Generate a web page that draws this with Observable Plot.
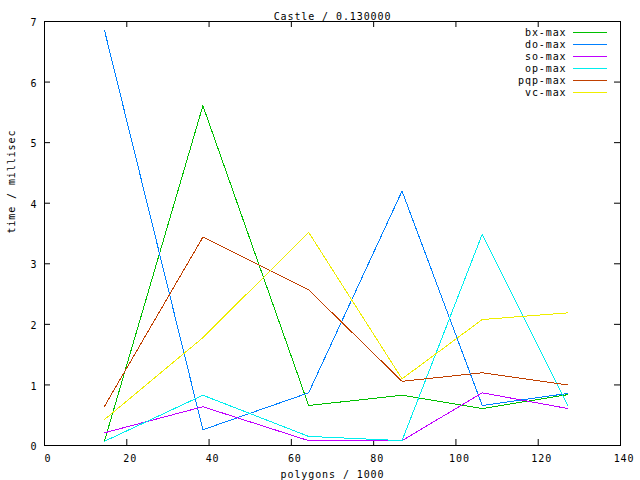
<!DOCTYPE html>
<html>
<head>
<meta charset="utf-8">
<script src="https://cdn.jsdelivr.net/npm/d3@7"></script>
<script src="https://cdn.jsdelivr.net/npm/@observablehq/plot@0.6"></script>
<style>
  body { margin: 0; background: #fff; }
  svg { display: block; }
  svg text { letter-spacing: 0.9px; }
</style>
</head>
<body>
<div id="chart"></div>
<script>
const title = "Castle / 0.130000";
const xLabel = "polygons / 1000";
const yLabel = "time / millisec";
const polygons = [14.6, 38.5, 64.2, 86.9, 106.4, 127.2];
const seriesNames = ["bx-max", "do-max", "so-max", "op-max", "pqp-max", "vc-max"];
const seriesColors = ["#00c000", "#0080ff", "#c000ff", "#00eeee", "#c04000", "#eeee00"];
const bxMax  = [0.08, 5.61, 0.66, 0.83, 0.61, 0.84];
const doMax  = [6.85, 0.26, 0.87, 4.20, 0.66, 0.86];
const soMax  = [0.21, 0.64, 0.08, 0.08, 0.87, 0.61];
const opMax  = [0.07, 0.83, 0.15, 0.08, 3.49, 0.66];
const pqpMax = [0.65, 3.44, 2.57, 1.06, 1.20, 1.00];
const vcMax  = [0.43, 1.78, 3.52, 1.10, 2.08, 2.19];
const xTicks = [0, 20, 40, 60, 80, 100, 120, 140];
const yTicks = [0, 1, 2, 3, 4, 5, 6, 7];

const seriesValues = [bxMax, doMax, soMax, opMax, pqpMax, vcMax];
const rows = [];
seriesNames.forEach((name, i) => {
  polygons.forEach((p, j) => rows.push({series: name, x: p, y: seriesValues[i][j]}));
});

const W = 640, H = 480;
const mL = 44, mR = 20, mT = 21, mB = 35;
const innerW = W - mL - mR, innerH = H - mT - mB;
const tick = 6;
const font = "'DejaVu Sans Mono', monospace";

const chart = Plot.plot({
  width: W,
  height: H,
  marginLeft: mL,
  marginRight: mR,
  marginTop: mT,
  marginBottom: mB,
  style: {fontFamily: font, fontSize: "10px", background: "#fff", color: "#000"},
  x: {domain: [0, 140]},
  y: {domain: [0, 7]},
  color: {domain: seriesNames, range: seriesColors},
  marks: [
    Plot.axisX(xTicks, {tickSize: 0, tickPadding: 9, dx: 3.5, label: null, tickFormat: d => String(d)}),
    Plot.axisY(yTicks, {tickSize: 0, tickPadding: 7, dy: 1.5, label: null, tickFormat: d => String(d)}),
    Plot.ruleX(xTicks, {x: d => d, insetTop: innerH - tick, stroke: "#000"}),
    Plot.ruleX(xTicks, {x: d => d, insetBottom: innerH - tick, stroke: "#000"}),
    Plot.ruleY(yTicks, {y: d => d, insetRight: innerW - tick, stroke: "#000"}),
    Plot.ruleY(yTicks, {y: d => d, insetLeft: innerW - tick, stroke: "#000"}),
    Plot.line(rows, {x: "x", y: "y", z: "series", stroke: "series", strokeWidth: 1, shapeRendering: "crispEdges"}),
    Plot.frame({stroke: "#000", strokeWidth: 1}),
    Plot.text([title], {frameAnchor: "top", lineAnchor: "middle", dy: -5, text: d => d, fill: "#000"}),
    Plot.text([xLabel], {frameAnchor: "bottom", lineAnchor: "middle", dy: 29, text: d => d, fill: "#000"}),
    Plot.text([yLabel], {frameAnchor: "left", lineAnchor: "middle", dx: -33, rotate: -90, text: d => d, fill: "#000"})
  ]
});

// gnuplot-style key in the top-right corner of the plot area
const svg = d3.select(chart);
const key = svg.append("g")
  .attr("font-family", font)
  .attr("font-size", "10px");
seriesNames.forEach((name, i) => {
  const yy = mT + 11.3 + 12 * i;
  key.append("text")
    .attr("x", W - mR - 53.5)
    .attr("y", yy)
    .attr("dy", "0.35em")
    .attr("text-anchor", "end")
    .attr("fill", "#000")
    .text(name);
  key.append("line")
    .attr("x1", W - mR - 47)
    .attr("x2", W - mR - 13)
    .attr("y1", Math.round(yy) + 0.5)
    .attr("y2", Math.round(yy) + 0.5)
    .attr("stroke", seriesColors[i])
    .attr("stroke-width", 1);
});

document.getElementById("chart").appendChild(chart);
</script>
</body>
</html>
